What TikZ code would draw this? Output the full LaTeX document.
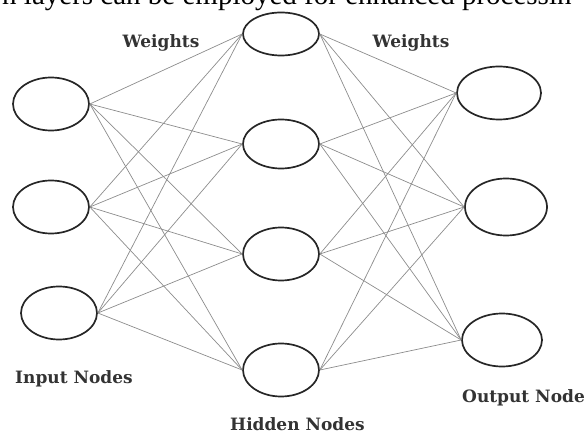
\documentclass[tikz,border=0pt]{standalone}
\usepackage{fontspec}
\setmainfont{Liberation Serif}
\newfontfamily\labfont{DejaVu Serif}
\usetikzlibrary{shapes.geometric,positioning}

\begin{document}
\begin{tikzpicture}[x=1pt,y=-1pt,
    neuron/.style={ellipse,draw=black!85,line width=1.7pt,minimum width=76pt,minimum height=53pt,inner sep=0pt},
    wire/.style={draw=black!45,line width=0.7pt},
    lab/.style={text=black!80,font=\labfont\bfseries\fontsize{17}{20}\selectfont,inner sep=0pt}]
  \useasboundingbox (0,0) rectangle (585,435);
  \clip (0,0) rectangle (585,435);
  \node[anchor=base west,inner sep=0pt,font=\fontsize{29}{34}\selectfont] (cap) at (2,5) {n layers can be employed for enhanced processin};
  \node[neuron] (i1) at (51,104) {};
  \node[neuron] (i2) at (51,207) {};
  \node[neuron] (i3) at (59,313) {};
  \node[neuron,minimum height=43pt] (h1) at (281,34) {};
  \node[neuron,minimum height=49pt] (h2) at (281,144) {};
  \node[neuron] (h3) at (281,254) {};
  \node[neuron] (h4) at (281,370) {};
  \node[neuron,minimum width=84pt] (o1) at (499,93) {};
  \node[neuron,minimum width=82pt,minimum height=57pt] (o2) at (506,207) {};
  \node[neuron,minimum width=80pt] (o3) at (502,340) {};
  \foreach \a in {1,2,3}
    \foreach \b in {1,...,4}
      \draw[wire] (i\a.east) -- (h\b.west);
  \foreach \b in {1,...,4}
    \foreach \c in {1,2,3}
      \draw[wire] (h\b.east) -- (o\c.west);
  \node[lab,anchor=base] (wl) at (161,48) {Weights};
  \node[lab,anchor=base] (wr) at (411,48) {Weights};
  \node[lab,anchor=base west] (inl) at (15,383) {Input Nodes};
  \node[lab,anchor=base west] (hdl) at (230,430) {Hidden Nodes};
  \node[lab,anchor=base west] (oul) at (462,402) {Output Node};
\end{tikzpicture}
\end{document}
